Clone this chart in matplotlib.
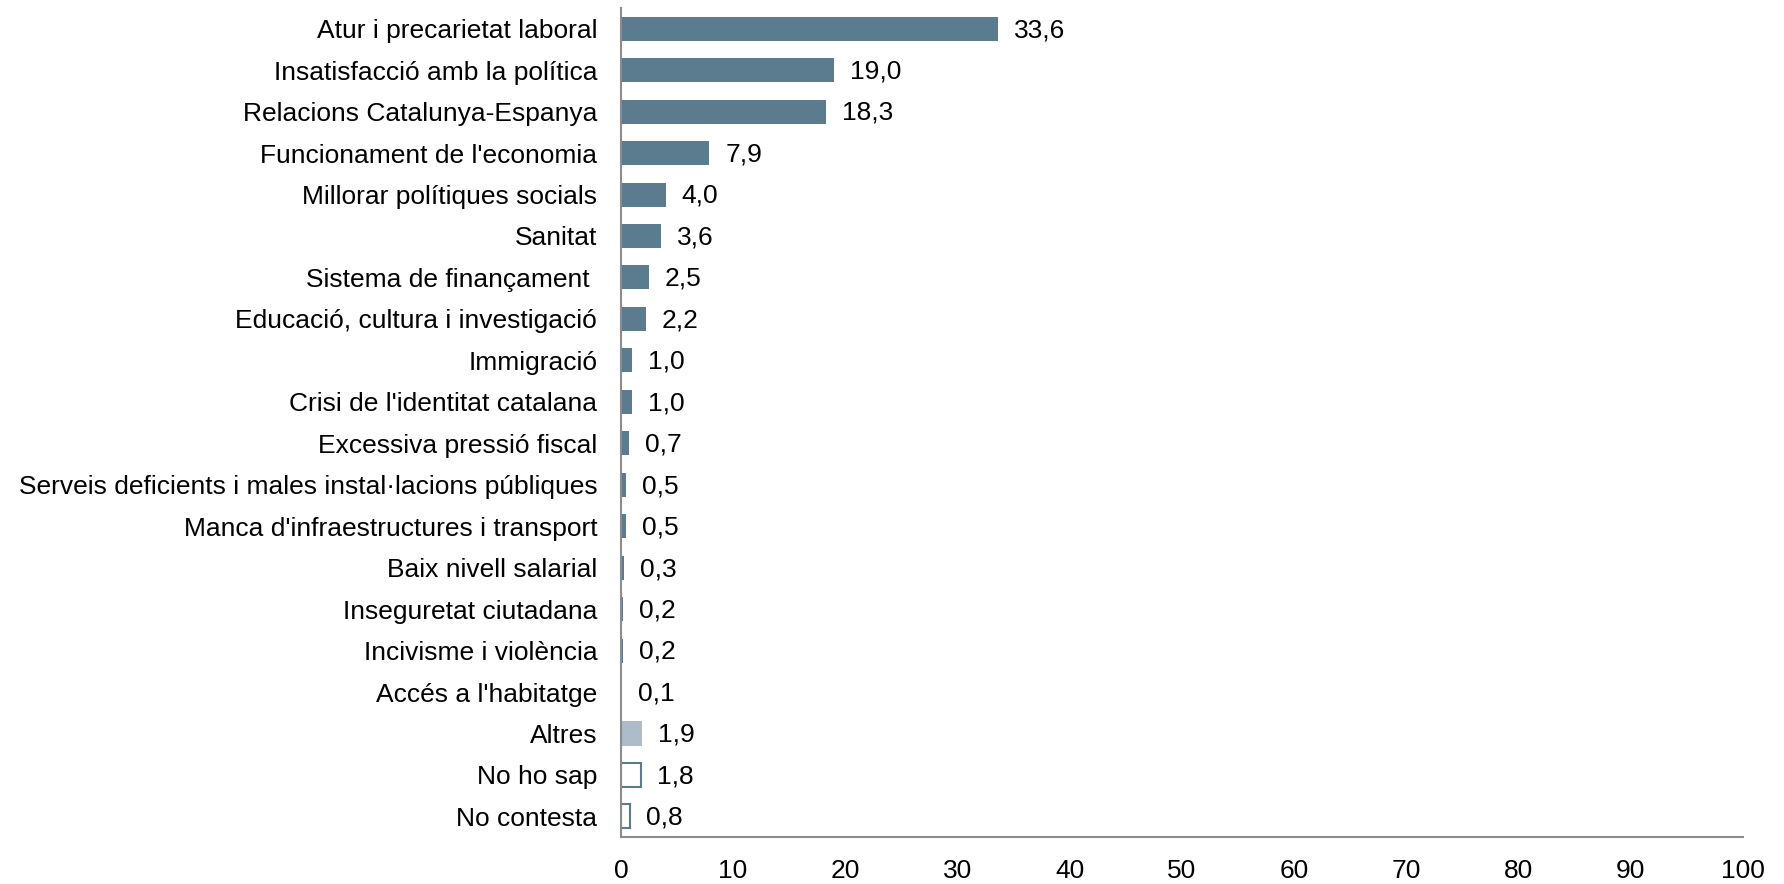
import matplotlib.pyplot as plt
import numpy as np

plt.rcParams['font.family'] = ['Liberation Sans', 'DejaVu Sans']

labels = ["Atur i precarietat laboral", "Insatisfacció amb la política",
          "Relacions Catalunya-Espanya", "Funcionament de l'economia",
          "Millorar polítiques socials", "Sanitat", "Sistema de finançament ",
          "Educació, cultura i investigació", "Immigració",
          "Crisi de l'identitat catalana", "Excessiva pressió fiscal",
          "Serveis deficients i males instal·lacions públiques",
          "Manca d'infraestructures i transport", "Baix nivell salarial",
          "Inseguretat ciutadana", "Incivisme i violència",
          "Accés a l'habitatge", "Altres", "No ho sap", "No contesta"]
values = [33.6, 19.0, 18.3, 7.9, 4.0, 3.6, 2.5, 2.2, 1.0, 1.0, 0.7,
          0.5, 0.5, 0.3, 0.2, 0.2, 0.1, 1.9, 1.8, 0.8]
xticks = [0, 10, 20, 30, 40, 50, 60, 70, 80, 90, 100]

dark = '#5b7b8e'
light = '#adbcc8'

fig = plt.figure(figsize=(17.84, 8.84), dpi=100)
ax = fig.add_axes([0.348, 0.053, 0.629, 0.938])

y = np.arange(len(values))
for i, v in enumerate(values):
    if labels[i] == "Altres":
        ax.barh(i, v, height=0.58, color=light)
    elif labels[i] in ("No ho sap", "No contesta"):
        ax.barh(i, v, height=0.58, facecolor='white', edgecolor=dark, linewidth=1.5)
    else:
        ax.barh(i, v, height=0.58, color=dark)
    ax.annotate(f"{v:.1f}".replace('.', ','), (v, i), xytext=(11.5, -1),
                textcoords='offset points', va='center', ha='left', fontsize=19)

ax.set_ylim(19.5, -0.5)
ax.set_xlim(0, 100)
ax.set_yticks(y)
ax.set_yticklabels(labels, fontsize=19)
ax.set_xticks(xticks)
ax.set_xticklabels([str(t) for t in xticks], fontsize=19)
ax.tick_params(axis='y', length=0, pad=17)
ax.tick_params(axis='x', length=0, pad=16)
for s in ['top', 'right']:
    ax.spines[s].set_visible(False)
for s in ['left', 'bottom']:
    ax.spines[s].set_color('#8c8c8c')
    ax.spines[s].set_linewidth(1.5)

fig.savefig('out.png', dpi=100)
